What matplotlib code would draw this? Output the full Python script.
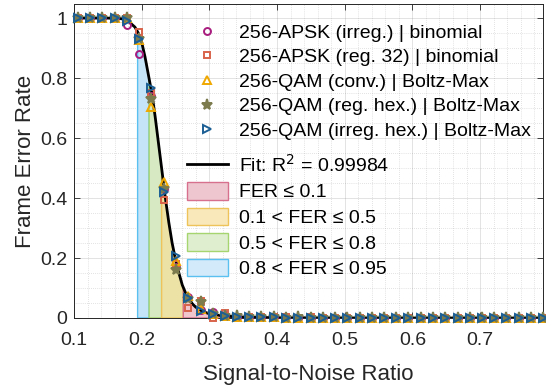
import matplotlib
matplotlib.use('Agg')
import matplotlib.pyplot as plt
import matplotlib.patches as mpatches
from matplotlib.lines import Line2D
from matplotlib.ticker import MultipleLocator
import numpy as np

plt.rcParams['font.family'] = ['Liberation Sans', 'DejaVu Sans']

# ── Data ────────────────────────────────────────────────────────────────────
snr = [0.106, 0.124, 0.142, 0.160, 0.178, 0.196, 0.214, 0.233, 0.251, 0.269,
       0.287, 0.305, 0.323, 0.341, 0.359, 0.377, 0.395, 0.413, 0.431, 0.450,
       0.468, 0.486, 0.504, 0.522, 0.540, 0.558, 0.576, 0.594, 0.612, 0.630,
       0.648, 0.667, 0.685, 0.703, 0.721, 0.739, 0.757, 0.775, 0.793]

fer_apsk_irreg = [1, 1, 1, 1, 0.977, 0.88, 0.74, 0.43, 0.171, 0.07,
                  0.027, 0.02, 0.01, 0.005, 0.004, 0.003, 0.002, 0.002, 0.001, 0.001,
                  0.001, 0.001, 0, 0, 0, 0, 0, 0, 0, 0,
                  0, 0, 0, 0, 0, 0, 0, 0, 0]
fer_apsk_reg32 = [1, 1, 1, 1, 1, 0.954, 0.75, 0.393, 0.18, 0.035,
                  0.056, 0.0, 0.016, 0.004, 0.003, 0.002, 0.003, 0.002, 0.001, 0.002,
                  0.001, 0.001, 0.001, 0, 0, 0.001, 0, 0, 0, 0,
                  0, 0, 0, 0, 0, 0, 0, 0, 0]
fer_qam_conv = [1, 1, 1, 1, 1, 0.927, 0.702, 0.452, 0.19, 0.074,
                0.03, 0.012, 0.006, 0.004, 0.003, 0.002, 0.002, 0.001, 0.001, 0.001,
                0.001, 0, 0, 0, 0, 0, 0, 0, 0, 0,
                0, 0, 0, 0, 0, 0, 0, 0, 0]
fer_qam_reghex = [1, 1, 1, 1, 1, 0.93, 0.729, 0.43, 0.16, 0.065,
                  0.054, 0.012, 0.007, 0.006, 0.004, 0.002, 0.002, 0.001, 0.002, 0.001,
                  0.001, 0.001, 0, 0, 0, 0, 0.001, 0, 0, 0,
                  0, 0, 0, 0, 0, 0, 0, 0, 0]
fer_qam_irreghex = [1, 1, 1, 1, 0.99, 0.93, 0.766, 0.419, 0.207, 0.066,
                    0.022, 0.015, 0.008, 0.004, 0.003, 0.002, 0.002, 0.001, 0.001, 0.001,
                    0.001, 0, 0, 0, 0, 0, 0, 0, 0, 0,
                    0, 0, 0, 0, 0, 0, 0, 0, 0]

fit_snr = [0.10, 0.15, 0.17, 0.18, 0.19, 0.195, 0.20, 0.205, 0.21, 0.215,
           0.22, 0.225, 0.23, 0.235, 0.24, 0.245, 0.25, 0.255, 0.26, 0.265,
           0.27, 0.275, 0.28, 0.29, 0.30, 0.32, 0.34, 0.37, 0.40, 0.50, 0.60, 0.793]
fit_fer = [1.0, 1.0, 0.998, 0.99, 0.97, 0.95, 0.92, 0.87, 0.81, 0.75,
           0.67, 0.58, 0.49, 0.40, 0.32, 0.25, 0.195, 0.15, 0.11, 0.083,
           0.063, 0.047, 0.036, 0.022, 0.014, 0.007, 0.004, 0.002, 0.001, 0.0003, 0.0001, 0.0]

# SNR bounds of the shaded FER bands (0.95, 0.8, 0.5, 0.1 crossings)
band_bounds = [0.194, 0.211, 0.2295, 0.2615, 0.793]
band_labels = ['0.8 < FER ≤ 0.95', '0.5 < FER ≤ 0.8', '0.1 < FER ≤ 0.5', 'FER ≤ 0.1']
band_face = ['#c6e4f7', '#d6e9c2', '#ede2a6', '#efc7cc']
band_leg_face = ['#d2eafa', '#dfeecf', '#f8e8ba', '#edc6d0']
band_edge = ['#5ac0f0', '#a6d46f', '#eec45a', '#d6708d']

series = [
    ('256-APSK (irreg.) | binomial', fer_apsk_irreg, 'o', '#a81c7e', 'none', 5.0),
    ('256-APSK (reg. 32) | binomial', fer_apsk_reg32, 's', '#d8624a', 'none', 4.6),
    ('256-QAM (conv.) | Boltz-Max', fer_qam_conv, '^', '#f0a800', 'none', 5.8),
    ('256-QAM (reg. hex.) | Boltz-Max', fer_qam_reghex, '*', '#7b7b4e', '#7b7b4e', 8.0),
    ('256-QAM (irreg. hex.) | Boltz-Max', fer_qam_irreghex, '>', '#1a5e94', 'none', 5.8),
]

# ── Plot ────────────────────────────────────────────────────────────────────
fig = plt.figure(figsize=(5.46, 3.9), dpi=100)
ax = fig.add_axes([74 / 546, 1 - 318 / 390, (543 - 74) / 546, (318 - 4) / 390])

for i in range(4):
    a, b = band_bounds[i], band_bounds[i + 1]
    xs = [a] + [s for s in fit_snr if a < s < b] + [b]
    ys = np.interp(xs, fit_snr, fit_fer)
    poly_x = [a] + xs + [b]
    poly_y = [0] + list(ys) + [0]
    ax.fill(poly_x, poly_y, facecolor=band_face[i], edgecolor=band_edge[i],
            linewidth=1.0, zorder=2)

ax.plot(fit_snr, fit_fer, color='black', linewidth=2.0, zorder=3)

for label, fer, mk, col, fc, ms in series:
    ax.plot(snr, fer, linestyle='none', marker=mk, markersize=ms,
            markeredgecolor=col, markerfacecolor=fc, markeredgewidth=1.4,
            zorder=4, clip_on=False)

ax.set_xlim(0.1, 0.793)
ax.set_ylim(0, 1.047)
ax.xaxis.set_minor_locator(MultipleLocator(0.02))
ax.yaxis.set_minor_locator(MultipleLocator(0.05))
ax.set_xticks([0.1, 0.2, 0.3, 0.4, 0.5, 0.6, 0.7])
ax.set_xticklabels(['0.1', '0.2', '0.3', '0.4', '0.5', '0.6', '0.7'])
ax.set_yticks([0, 0.2, 0.4, 0.6, 0.8, 1.0])
ax.set_yticklabels(['0', '0.2', '0.4', '0.6', '0.8', '1'])

ax.grid(True, which='major', color='#262626', alpha=0.15, linewidth=0.6, zorder=0)
ax.grid(True, which='minor', color='#262626', alpha=0.25, linewidth=0.5,
        linestyle=(0, (1, 2)), zorder=0)
ax.set_axisbelow(True)

ax.tick_params(which='major', direction='in', length=4.5, width=0.6,
               top=True, right=True, labelsize=14, colors='#262626')
ax.tick_params(axis='x', which='major', pad=10)
ax.tick_params(axis='y', which='major', pad=5)
ax.tick_params(which='minor', length=0, top=True, right=True)
for sp in ax.spines.values():
    sp.set_color('#262626')
    sp.set_linewidth(0.7)

ax.set_xlabel('Signal-to-Noise Ratio', fontsize=16, color='#262626', labelpad=11)
ax.set_ylabel('Frame Error Rate', fontsize=16, color='#262626', labelpad=3)

# legends
mk_handles = [Line2D([], [], linestyle='none', marker=mk, markersize=ms,
                     markeredgecolor=col, markerfacecolor=fc, markeredgewidth=1.4)
              for _, _, mk, col, fc, ms in series]
leg1 = ax.legend(mk_handles, [s[0] for s in series], loc='upper left',
                 bbox_to_anchor=(187 / 546, 1 - 24 / 390), bbox_transform=fig.transFigure,
                 frameon=False, fontsize=14, handlelength=2.1, handletextpad=0.57,
                 labelspacing=0.36, borderpad=0, borderaxespad=0)
ax.add_artist(leg1)

fit_handle = Line2D([], [], color='black', linewidth=2.0)
patch_handles = [mpatches.Patch(facecolor=band_leg_face[i], edgecolor=band_edge[i], linewidth=1.0)
                 for i in [3, 2, 1, 0]]
leg2 = ax.legend([fit_handle] + patch_handles,
                 ['Fit: R$^2$ = 0.99984'] + [band_labels[i] for i in [3, 2, 1, 0]],
                 loc='upper left', bbox_to_anchor=(187 / 546, 1 - 154 / 390),
                 bbox_transform=fig.transFigure, frameon=False, fontsize=14,
                 handlelength=2.1, handleheight=1.0, handletextpad=0.57,
                 labelspacing=0.32, borderpad=0, borderaxespad=0)

fig.savefig('out.png', dpi=100)
